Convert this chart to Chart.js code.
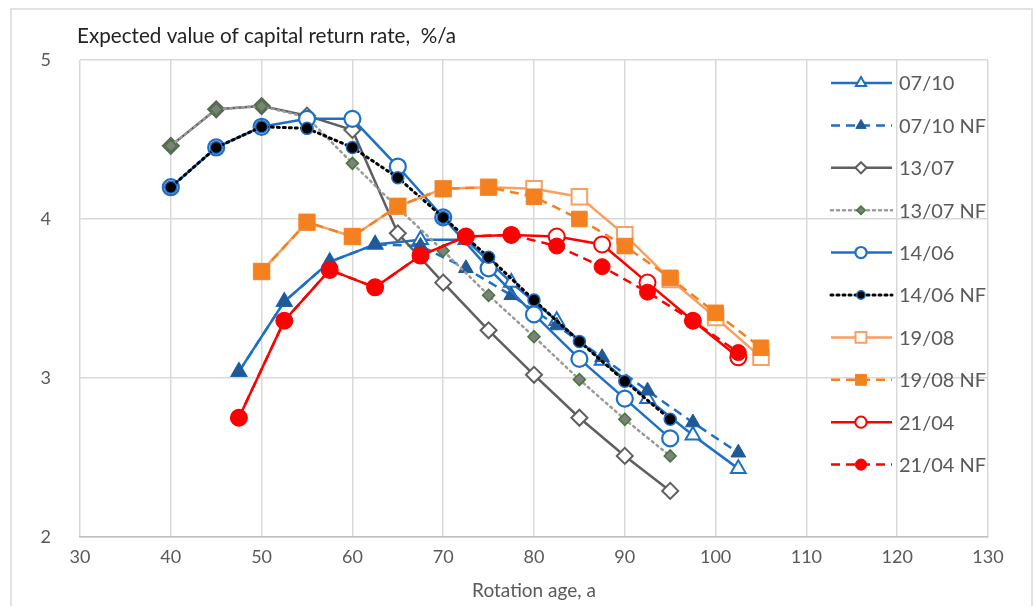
<!DOCTYPE html>
<html>
<head>
<meta charset="utf-8">
<title>Capital return rate</title>
<script src="https://cdn.jsdelivr.net/npm/chart.js@4.4.1/dist/chart.umd.min.js"></script>
<style>
  html, body { margin: 0; padding: 0; background: #fff; }
  #wrap { position: relative; width: 1035px; height: 606px; }
</style>
</head>
<body>
<div id="wrap"><canvas id="chart"></canvas></div>
<script>
'use strict';

// rotation ages (a)
const agesA = [47.5, 52.5, 57.5, 62.5, 67.5, 72.5, 77.5, 82.5, 87.5, 92.5, 97.5, 102.5];
const agesB = [40, 45, 50, 55, 60, 65, 70, 75, 80, 85, 90, 95];
const agesC = [50, 55, 60, 65, 70, 75, 80, 85, 90, 95, 100, 105];

// expected value of capital return rate, %/a
const v0710   = [3.04, 3.48, 3.73, 3.84, 3.87, 3.87, 3.60, 3.36, 3.11, 2.87, 2.64, 2.43];
const v0710nf = [3.04, 3.48, 3.73, 3.84, 3.83, 3.69, 3.52, 3.33, 3.13, 2.92, 2.72, 2.53];
const v1307   = [4.46, 4.69, 4.71, 4.65, 4.56, 3.91, 3.60, 3.30, 3.02, 2.75, 2.51, 2.29];
const v1307nf = [4.46, 4.69, 4.71, 4.64, 4.35, 4.07, 3.80, 3.52, 3.26, 2.99, 2.74, 2.51];
const v1406   = [4.20, 4.45, 4.58, 4.63, 4.63, 4.33, 4.01, 3.69, 3.40, 3.12, 2.87, 2.62];
const v1406nf = [4.20, 4.45, 4.58, 4.57, 4.45, 4.26, 4.01, 3.76, 3.49, 3.23, 2.98, 2.74];
const v1908   = [3.67, 3.98, 3.89, 4.08, 4.19, 4.20, 4.19, 4.14, 3.90, 3.62, 3.38, 3.13];
const v1908nf = [3.67, 3.98, 3.89, 4.08, 4.19, 4.20, 4.14, 4.00, 3.83, 3.63, 3.41, 3.19];
const v2104   = [2.75, 3.36, 3.68, 3.57, 3.77, 3.89, 3.90, 3.89, 3.84, 3.60, 3.36, 3.13];
const v2104nf = [2.75, 3.36, 3.68, 3.57, 3.77, 3.89, 3.90, 3.83, 3.70, 3.54, 3.36, 3.16];

const xTicks = [30, 40, 50, 60, 70, 80, 90, 100, 110, 120, 130];
const yTicks = [2, 3, 4, 5];

const BLUE = '#1E6FC8', NAVY = '#1F5A96', GREY = '#5F5F5F', LGREY = '#9A9A9A';
const GREEN = '#3E7B32', ORANGE = '#F58020', LORANGE = '#F8A060', RED = '#FF0000';
const DOT = [2, 4], DASH = [9, 6];

const series = [
  { label: '07/10',    ages: agesA, vals: v0710,   color: BLUE,   dash: [],   w: 2.5, shape: 'triangle', r: 8.5, fill: '#fff', stroke: BLUE,  bw: 2 },
  { label: '07/10 NF', ages: agesA, vals: v0710nf, color: BLUE,   dash: DASH, w: 2.5, shape: 'triangle', r: 8.5, fill: NAVY,   stroke: NAVY,  bw: 1 },
  { label: '13/07',    ages: agesB, vals: v1307,   color: GREY,   dash: [],   w: 2.5, shape: 'rectRot',  r: 8, fill: '#fff', stroke: GREY,  bw: 2 },
  { label: '13/07 NF', ages: agesB, vals: v1307nf, color: LGREY,  dash: DOT,  w: 2.5, shape: 'rectRot',  r: 6, fill: '#7F7F7F', stroke: GREEN, bw: 1.5 },
  { label: '14/06',    ages: agesB, vals: v1406,   color: BLUE,   dash: [],   w: 2.5, shape: 'circle',   r: 8, fill: '#fff', stroke: BLUE,  bw: 2.2 },
  { label: '14/06 NF', ages: agesB, vals: v1406nf, color: '#000', dash: DOT,  w: 3,   shape: 'circle',   r: 6, fill: '#000', stroke: BLUE,  bw: 1.5 },
  { label: '19/08',    ages: agesC, vals: v1908,   color: LORANGE, dash: [],  w: 2.5, shape: 'rect',     r: 11, fill: '#fff', stroke: LORANGE, bw: 2 },
  { label: '19/08 NF', ages: agesC, vals: v1908nf, color: ORANGE, dash: DASH, w: 2.5, shape: 'rect',     r: 11, fill: ORANGE, stroke: ORANGE, bw: 1 },
  { label: '21/04',    ages: agesA, vals: v2104,   color: RED,    dash: [],   w: 2.5, shape: 'circle',   r: 8, fill: '#fff', stroke: RED,   bw: 2 },
  { label: '21/04 NF', ages: agesA, vals: v2104nf, color: RED,    dash: DASH, w: 2.5, shape: 'circle',   r: 8, fill: RED,    stroke: RED,   bw: 1 },
];

const datasets = series.map((s, i) => ({
  label: s.label,
  data: s.ages.map((a, k) => ({ x: a, y: s.vals[k] })),
  borderColor: s.color,
  borderWidth: s.w,
  borderDash: s.dash,
  borderCapStyle: s.dash === DOT ? 'round' : 'butt',
  tension: 0,
  fill: false,
  pointStyle: s.shape,
  pointRadius: s.r,
  pointBackgroundColor: s.fill,
  pointBorderColor: s.stroke,
  pointBorderWidth: s.bw,
  order: series.length - i,
}));

function drawMarker(ctx, shape, x, y, r) {
  ctx.beginPath();
  if (shape === 'circle') {
    ctx.arc(x, y, r, 0, Math.PI * 2);
  } else if (shape === 'triangle') {
    for (let k = 0; k < 3; k++) {
      const a = k * 2 * Math.PI / 3;
      const px = x + Math.sin(a) * r, py = y - Math.cos(a) * r;
      k ? ctx.lineTo(px, py) : ctx.moveTo(px, py);
    }
  } else if (shape === 'rect') {
    const h = r * Math.SQRT1_2;
    ctx.rect(x - h, y - h, 2 * h, 2 * h);
  } else {
    ctx.moveTo(x, y - r); ctx.lineTo(x + r, y); ctx.lineTo(x, y + r); ctx.lineTo(x - r, y);
  }
  ctx.closePath();
}

// draws text squeezed to a given width (the source font is a narrow one)
function fitText(ctx, text, x, y, width) {
  const w = ctx.measureText(text).width;
  const k = Math.min(1, width / w);
  ctx.save();
  ctx.translate(x, y);
  ctx.scale(k, 1);
  ctx.fillText(text, 0, 0);
  ctx.restore();
}

const decor = {
  id: 'decor',
  beforeDraw(chart) {
    const ctx = chart.ctx;
    ctx.save();
    ctx.fillStyle = '#fff';
    ctx.fillRect(0, 0, chart.width, chart.height);
    ctx.restore();
  },
  afterDraw(chart) {
    const ctx = chart.ctx;
    ctx.save();
    // frame
    ctx.strokeStyle = '#D9D9D9';
    ctx.lineWidth = 1.5;
    ctx.strokeRect(11, 9, 1021, 600);
    // title
    ctx.fillStyle = '#222';
    ctx.font = '22px Lato';
    ctx.textAlign = 'left';
    ctx.textBaseline = 'alphabetic';
    fitText(ctx, 'Expected value of capital return rate,  %/a', 77, 43, 379);
    // x axis title
    ctx.fillStyle = '#595959';
    ctx.font = '19px Lato';
    ctx.textAlign = 'center';
    ctx.textBaseline = 'middle';
    const a = chart.chartArea;
    ctx.fillText('Rotation age, a', (a.left + a.right) / 2, 591);
    // legend
    ctx.font = '20px Lato';
    ctx.textAlign = 'left';
    series.forEach((s, i) => {
      const y = 83 + i * 42.4;
      ctx.strokeStyle = s.color;
      ctx.lineWidth = s.w;
      ctx.setLineDash(s.dash);
      ctx.lineCap = s.dash === DOT ? 'round' : 'butt';
      ctx.beginPath();
      ctx.moveTo(831, y);
      ctx.lineTo(892, y);
      ctx.stroke();
      ctx.setLineDash([]);
      drawMarker(ctx, s.shape, 861, y, s.r * 0.7);
      ctx.fillStyle = s.fill;
      ctx.fill();
      ctx.strokeStyle = s.stroke;
      ctx.lineWidth = s.bw;
      ctx.stroke();
      ctx.fillStyle = '#595959';
      ctx.fillText(s.label, 899, y + 1);
    });
    ctx.restore();
  },
};

Chart.defaults.font.family = 'Lato, "Noto Sans", sans-serif';

new Chart(document.getElementById('chart'), {
  type: 'line',
  data: { datasets },
  plugins: [decor],
  options: {
    responsive: true,
    maintainAspectRatio: false,
    animation: false,
    layout: { padding: { top: 60, right: 47, bottom: 0, left: 0 } },
    plugins: { legend: { display: false }, tooltip: { enabled: false }, title: { display: false } },
    scales: {
      x: {
        type: 'linear',
        min: xTicks[0],
        max: xTicks[xTicks.length - 1],
        afterBuildTicks(s) { s.ticks = xTicks.map(v => ({ value: v })); },
        afterFit(s) { s.height = 69; },
        ticks: { color: '#595959', font: { size: 18 }, padding: 9, maxRotation: 0 },
        grid: { color: '#D9D9D9', lineWidth: 1.5, drawTicks: false },
        border: { color: '#BFBFBF', width: 1.5 },
      },
      y: {
        min: yTicks[0],
        max: yTicks[yTicks.length - 1],
        afterBuildTicks(s) { s.ticks = yTicks.map(v => ({ value: v })); },
        afterFit(s) { s.width = 80; },
        ticks: { color: '#595959', font: { size: 18 }, padding: 29 },
        grid: { color: '#D9D9D9', lineWidth: 1.5, drawTicks: false },
        border: { display: false },
      },
    },
  },
});
</script>
</body>
</html>
